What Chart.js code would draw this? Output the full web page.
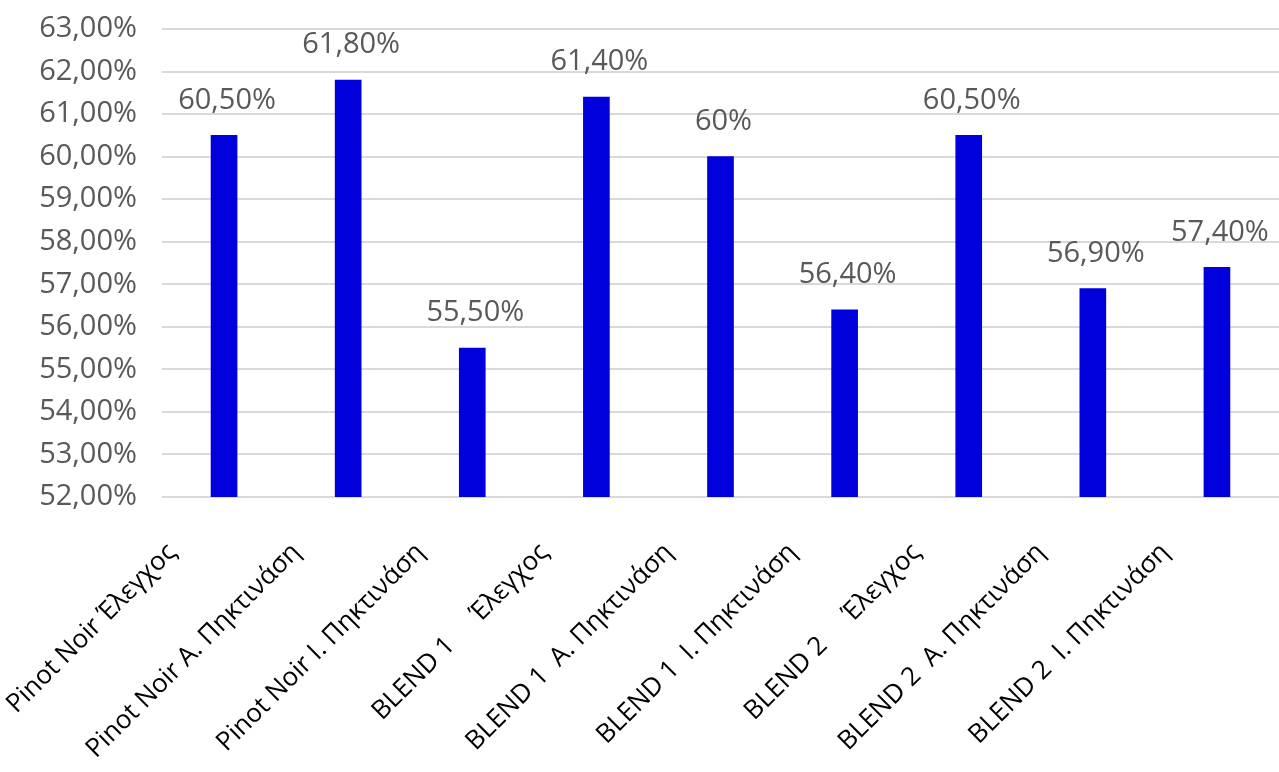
<!DOCTYPE html>
<html>
<head>
<meta charset="utf-8">
<script src="https://cdn.jsdelivr.net/npm/chart.js@4.4.1/dist/chart.umd.min.js"></script>
<style>
  html, body { margin: 0; padding: 0; background: #fff; }
  #wrap { width: 1279px; height: 772px; }
</style>
</head>
<body>
<div id="wrap"><canvas id="chart" width="1279" height="772"></canvas></div>
<script>
const categories = [
  'Pinot Noir Έλεγχος',
  'Pinot Noir A. Πηκτινάση',
  'Pinot Noir I. Πηκτινάση',
  'BLEND 1     Έλεγχος',
  'BLEND 1  A. Πηκτινάση',
  'BLEND 1  I. Πηκτινάση',
  'BLEND 2     Έλεγχος',
  'BLEND 2  A. Πηκτινάση',
  'BLEND 2  I. Πηκτινάση'
];
const values = [60.5, 61.8, 55.5, 61.4, 60.0, 56.4, 60.5, 56.9, 57.4];
const valueLabels = ['60,50%', '61,80%', '55,50%', '61,40%', '60%', '56,40%', '60,50%', '56,90%', '57,40%'];
const yMin = 52;
const yMax = 63;

const FONT = "'Open Sans', 'Noto Sans', sans-serif";

// draws the value text above each bar
const barLabels = {
  id: 'barLabels',
  afterDatasetsDraw(chart) {
    const ctx = chart.ctx;
    const meta = chart.getDatasetMeta(0);
    ctx.save();
    ctx.font = '29px ' + FONT;
    ctx.fillStyle = '#595959';
    ctx.textAlign = 'center';
    ctx.textBaseline = 'middle';
    meta.data.forEach((bar, i) => {
      ctx.fillText(valueLabels[i], bar.x + 3, bar.y - 35);
    });
    ctx.restore();
  }
};

new Chart(document.getElementById('chart'), {
  type: 'bar',
  data: {
    labels: categories,
    datasets: [{
      data: values,
      backgroundColor: '#0000dd',
      borderWidth: 0,
      barThickness: 26
    }]
  },
  options: {
    responsive: false,
    animation: false,
    layout: { padding: { top: 29, right: -6, left: 0, bottom: 0 } },
    plugins: {
      legend: { display: false },
      tooltip: { enabled: false }
    },
    scales: {
      x: {
        grid: { display: false },
        border: { display: false },
        ticks: {
          color: '#000',
          font: { family: FONT, size: 26 },
          minRotation: 45,
          maxRotation: 45,
          autoSkip: false,
          labelOffset: -52,
          padding: 32
        },
        afterFit(scale) { scale.height = 275; }
      },
      y: {
        min: yMin,
        max: yMax,
        border: { display: false },
        grid: { color: '#d9d9d9', lineWidth: 2, drawTicks: false },
        ticks: {
          stepSize: 1,
          color: '#595959',
          font: { family: FONT, size: 29 },
          padding: 25,
          callback: v => v.toFixed(2).replace('.', ',') + '%'
        },
        afterFit(scale) {
          scale.width = 162;
          scale.paddingTop = 0;
          scale.paddingBottom = 0;
        }
      }
    }
  },
  plugins: [barLabels]
});
</script>
</body>
</html>
